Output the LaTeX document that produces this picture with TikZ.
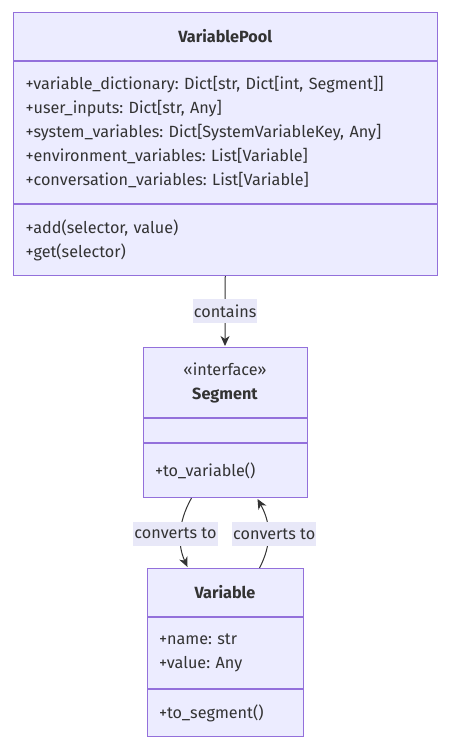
\documentclass[tikz,border=0pt]{standalone}
\usepackage{fontspec}
\setmainfont{Fira Sans}
\usepackage{tikz}
\usetikzlibrary{calc}
\usetikzlibrary{shapes.geometric, arrows.meta, positioning}
\definecolor{umlfill}{HTML}{ECECFF}
\definecolor{umlborder}{HTML}{9370DB}
\definecolor{umltext}{HTML}{333333}
\definecolor{labelbg}{HTML}{E8E8F8}
\frenchspacing
\tikzstyle{arrow} = [line width=1pt,draw=umltext,-{Stealth[length=10pt,width=9pt,inset=3pt]}]
\tikzstyle{part} = [draw=umlborder,fill=umlfill,line width=1pt,anchor=north,inner xsep=12pt,inner ysep=0pt,align=left,text=umltext,font=\fontsize{16.2}{24}\selectfont]
\tikzstyle{edgelabel} = [fill=labelbg,inner xsep=1pt,inner ysep=0pt,minimum height=24pt,text=umltext,font=\fontsize{16.2}{24}\selectfont]

\begin{document}
\begin{tikzpicture}[x=1pt,y=-1pt]
    \useasboundingbox (0,0) rectangle (450,743);
    % VariablePool
    \node[part,text width=399.5pt,align=center,minimum height=48pt](pool_head) at (225.25,12) {\textbf{VariablePool}};
    \node[part,text width=399.5pt,minimum height=142pt](pool_attr)[below=0pt of pool_head]{+variable\_dictionary: Dict[str, Dict[int, Segment]]\\+user\_inputs: Dict[str, Any]\\+system\_variables: Dict[SystemVariableKey, Any]\\+environment\_variables: List[Variable]\\+conversation\_variables: List[Variable]};
    \node[part,text width=399.5pt,minimum height=71pt](pool_meth)[below=0pt of pool_attr]{+add(selector, value)\\+get(selector)};
    % Segment
    \node[part,text width=140pt,align=center,minimum height=70pt](seg_head) at (225,347) {«interface»\\\textbf{Segment}};
    \node[part,text width=140pt,minimum height=24pt](seg_attr)[below=0pt of seg_head]{};
    \node[part,text width=140pt,minimum height=54pt](seg_meth)[below=0pt of seg_attr]{+to\_variable()};
    % Variable
    \node[part,text width=132pt,align=center,minimum height=48pt](var_head) at (225,568) {\textbf{Variable}};
    \node[part,text width=132pt,minimum height=71pt](var_attr)[below=0pt of var_head]{+name: str\\+value: Any};
    \node[part,text width=132pt,minimum height=47pt](var_meth)[below=0pt of var_attr]{+to\_segment()};
    % end points of the curved connectors
    \coordinate (seg_out) at ($(seg_meth.south west)+(49,0)$);
    \coordinate (seg_in) at ($(seg_meth.south west)+(115,1)$);
    \coordinate (var_in) at ($(var_head.north west)+(41,-1)$);
    \coordinate (var_out) at ($(var_head.north west)+(113,0)$);
    \draw[arrow] (pool_meth.south) -- node[edgelabel]{contains} ($(seg_head.north)+(0,-1)$);
    \draw[arrow] (seg_out) .. controls ($(seg_out)+(-14,25)$) and ($(var_in)+(-10,-22)$) .. node[edgelabel,xshift=-5pt]{converts to} (var_in);
    \draw[arrow] (var_out) .. controls ($(var_out)+(12,-23)$) and ($(seg_in)+(14,25)$) .. node[edgelabel,xshift=6pt]{converts to} (seg_in);
\end{tikzpicture}
\end{document}
